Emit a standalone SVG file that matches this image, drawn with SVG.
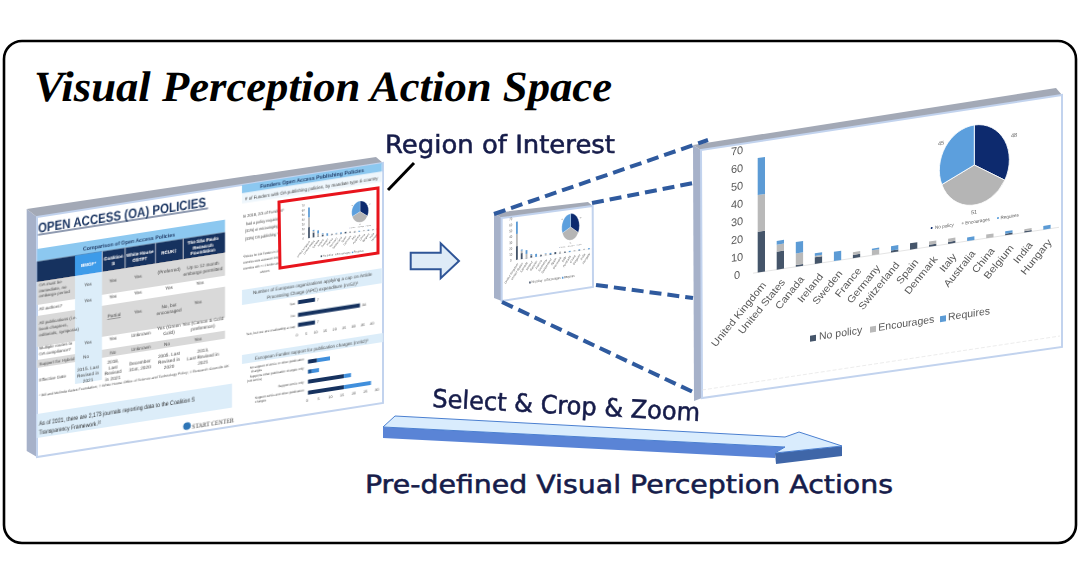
<svg xmlns="http://www.w3.org/2000/svg" width="1080" height="580" viewBox="0 0 1080 580">
<style>
text{text-rendering:geometricPrecision}
.hand{font-family:"DejaVu Sans","Open Sans",sans-serif;fill:#161c4a;stroke:#161c4a;stroke-width:0.55;font-size:25px}
.sans{font-family:"Liberation Sans",Arial,sans-serif}
.face-l{fill:#a6b1c9}
.face-t{fill:#a3a9b6}
.front{fill:#fff;stroke:#c2d3ee;stroke-width:2}
.dk{fill:#44546a}.gy{fill:#b9b9b9}.bl{fill:#5b9bd5}
.ax{font-family:"Liberation Sans",Arial,sans-serif;font-size:10.5px;fill:#595959}
.ay{font-family:"Liberation Sans",Arial,sans-serif;font-size:11px;fill:#595959;text-anchor:middle}
.cl{font-family:"Liberation Sans",Arial,sans-serif;font-size:10.5px;fill:#595959;text-anchor:end}
.pl{font-family:"Liberation Sans",Arial,sans-serif;font-size:5.5px;fill:#595959}
.ml{font-family:"Liberation Sans",Arial,sans-serif;font-size:4.6px;fill:#595959}
.c{font-family:"Liberation Sans",Arial,sans-serif;font-size:4.7px;fill:#404040;text-anchor:middle}
.lab{font-family:"Liberation Sans",Arial,sans-serif;font-size:4.4px;fill:#404040}
.r{font-family:"Liberation Sans",Arial,sans-serif;font-size:5px;fill:#404040;text-anchor:end}
.h{font-family:"Liberation Sans",Arial,sans-serif;font-size:4.5px;font-weight:700;fill:#fff;text-anchor:middle}
.t{font-family:"Liberation Sans",Arial,sans-serif;fill:#1f3864}
.navy{fill:#12305f}.lb{fill:#dcedf9}.rowg{fill:#d9d9d9}
.dash{fill:none;stroke:#2f5a9e;stroke-width:4;stroke-dasharray:12 6}
</style>
<defs>
<filter id="b1" x="-5%" y="-5%" width="110%" height="110%"><feGaussianBlur stdDeviation="0.45"/></filter>
<filter id="b2" x="-5%" y="-5%" width="110%" height="110%"><feGaussianBlur stdDeviation="0.55"/></filter>
<filter id="b3" x="-5%" y="-5%" width="110%" height="110%"><feGaussianBlur stdDeviation="0.4"/></filter>
<g id="chart">
<line x1="52" y1="132" x2="358" y2="132" stroke="#d9d9d9" stroke-width="0.7"/>
<g class="ay"><text x="36" y="11">70</text><text x="36" y="28.8">60</text><text x="36" y="46.5">50</text><text x="36" y="64.3">40</text><text x="36" y="82">30</text><text x="36" y="99.8">20</text><text x="36" y="117.6">10</text><text x="36" y="135.3">0</text></g>
<g>
<rect class="dk" x="56.7" y="91.3" width="7.3" height="40.7"/><rect class="gy" x="56.7" y="54.6" width="7.3" height="36.7"/><rect class="bl" x="56.7" y="17.6" width="7.3" height="37"/>
<rect class="dk" x="75.7" y="114" width="7.3" height="18"/><rect class="gy" x="75.7" y="107" width="7.3" height="7"/><rect class="bl" x="75.7" y="103.3" width="7.3" height="3.7"/>
<rect class="dk" x="94.8" y="130.3" width="7.3" height="1.7"/><rect class="gy" x="94.8" y="118.6" width="7.3" height="11.7"/><rect class="bl" x="94.8" y="107.3" width="7.3" height="11.3"/>
<rect class="dk" x="113.8" y="125.3" width="7.3" height="6.7"/><rect class="gy" x="113.8" y="124" width="7.3" height="1.3"/><rect class="bl" x="113.8" y="121.3" width="7.3" height="2.7"/>
<rect class="bl" x="132.9" y="122.7" width="7.3" height="9.3"/>
<rect class="dk" x="151.9" y="128.7" width="7.3" height="3.3"/><rect class="gy" x="151.9" y="126" width="7.3" height="2.7"/>
<rect class="gy" x="170.9" y="127" width="7.3" height="5"/><rect class="bl" x="170.9" y="125.3" width="7.3" height="1.7"/>
<rect class="dk" x="190" y="130" width="7.3" height="2"/><rect class="bl" x="190" y="125.7" width="7.3" height="4.3"/>
<rect class="dk" x="209" y="125.7" width="7.3" height="6.3"/>
<rect class="dk" x="228" y="130" width="7.3" height="2"/><rect class="gy" x="228" y="126.7" width="7.3" height="3.3"/>
<rect class="dk" x="247.1" y="130" width="7.3" height="2"/><rect class="gy" x="247.1" y="126.7" width="7.3" height="3.3"/>
<rect class="bl" x="266.1" y="128.3" width="7.3" height="3.7"/>
<rect class="gy" x="285.2" y="128.3" width="7.3" height="3.7"/>
<rect class="dk" x="304.2" y="130.3" width="7.3" height="1.7"/><rect class="bl" x="304.2" y="128" width="7.3" height="2.3"/>
<rect class="dk" x="323.3" y="130.7" width="7.3" height="1.3"/><rect class="gy" x="323.3" y="128.7" width="7.3" height="2"/>
<rect class="bl" x="342.3" y="128.3" width="7.3" height="3.7"/>
</g>
<text class="cl" transform="translate(65.7 146) rotate(-47)">United Kingdom</text>
<text class="cl" transform="translate(84.7 146) rotate(-47)">United States</text>
<text class="cl" transform="translate(103.8 146) rotate(-47)">Canada</text>
<text class="cl" transform="translate(122.8 146) rotate(-47)">Ireland</text>
<text class="cl" transform="translate(141.9 146) rotate(-47)">Sweden</text>
<text class="cl" transform="translate(160.9 146) rotate(-47)">France</text>
<text class="cl" transform="translate(179.9 146) rotate(-47)">Germany</text>
<text class="cl" transform="translate(199 146) rotate(-47)">Switzerland</text>
<text class="cl" transform="translate(218 146) rotate(-47)">Spain</text>
<text class="cl" transform="translate(237 146) rotate(-47)">Denmark</text>
<text class="cl" transform="translate(256.1 146) rotate(-47)">Italy</text>
<text class="cl" transform="translate(275.1 146) rotate(-47)">Australia</text>
<text class="cl" transform="translate(294.2 146) rotate(-47)">China</text>
<text class="cl" transform="translate(313.2 146) rotate(-47)">Belgium</text>
<text class="cl" transform="translate(332.3 146) rotate(-47)">India</text>
<text class="cl" transform="translate(351.3 146) rotate(-47)">Hungary</text>
<rect class="dk" x="109" y="203" width="6" height="6"/><text class="ax" x="118" y="208.5">No policy</text>
<rect class="gy" x="169" y="203" width="6" height="6"/><text class="ax" x="177.3" y="208.5">Encourages</text>
<rect class="bl" x="239" y="203" width="6" height="6"/><text class="ax" x="247" y="208.5">Requires</text>
<g stroke="#fff" stroke-width="0.8">
<path d="M273.3 57L273.3 17A35 40 0 0 1 303.8 76.7Z" fill="#0b2a6e"/>
<path d="M273.3 57L303.8 76.7A35 40 0 0 1 240.8 71.7Z" fill="#b5b5b5"/>
<path d="M273.3 57L240.8 71.7A35 40 0 0 1 273.3 17Z" fill="#5b9fdd"/>
</g>
<text class="pl" x="310" y="35">48</text><text class="pl" x="237" y="32">45</text><text class="pl" x="270" y="106">51</text>
<circle cx="230.7" cy="113.6" r="1" fill="#0b2a6e"/><text class="ml" x="234" y="115.2">No policy</text>
<circle cx="261.7" cy="113.6" r="1" fill="#b5b5b5"/><text class="ml" x="264.3" y="115.2">Encourages</text>
<circle cx="297" cy="113.6" r="1" fill="#5b9fdd"/><text class="ml" x="299.5" y="115.2">Requires</text>
</g>
</defs>

<rect width="1080" height="580" fill="#fff"/>
<g id="frame"><rect x="4" y="41" width="1072" height="502" rx="18" fill="#fff" stroke="#000" stroke-width="2.6"/></g>
<g id="title"><text x="34" y="101" font-family="Liberation Serif,Times New Roman,serif" font-weight="700" font-style="italic" font-size="43" textLength="578" lengthAdjust="spacingAndGlyphs" fill="#000">Visual Perception Action Space</text></g>

<g id="source-slide">
<polygon class="face-l" points="26.7,209 37,217 37,457 26.7,451"/>
<polygon class="face-t" points="26.7,209 376,157 383,163 37,217"/>
<polygon class="front" points="37,217 383,163 383,403 37,457"/>
<g transform="matrix(1 -0.156 0 1 0 5.77)" filter="url(#b1)">
<text class="t" x="38" y="232.5" font-size="13.6" font-weight="700" textLength="168" lengthAdjust="spacingAndGlyphs">OPEN ACCESS (OA) POLICIES</text>
<rect x="38" y="234.5" width="170" height="1" fill="#1f3864"/>
<rect x="37" y="249" width="188" height="12.5" fill="#8cc8f0"/>
<text class="t" x="129" y="257.5" font-size="5.6" font-weight="700" text-anchor="middle" textLength="92" lengthAdjust="spacingAndGlyphs">Comparison of Open Access Policies</text>
<rect class="navy" x="37" y="261.5" width="188" height="20.5"/>
<rect x="75" y="261.5" width="27" height="20.5" fill="#3d9be9"/>
<rect x="102" y="261.5" width="0.6" height="20.5" fill="#fff"/><rect x="125" y="261.5" width="0.6" height="20.5" fill="#fff"/><rect x="155" y="261.5" width="0.6" height="20.5" fill="#fff"/><rect x="183" y="261.5" width="0.6" height="20.5" fill="#fff"/>
<text class="h" x="88.5" y="274">BMGF*</text>
<text class="h" x="113.5" y="271">Coalition</text><text class="h" x="113.5" y="277">S</text>
<text class="h" x="140" y="271">White House</text><text class="h" x="140" y="277">OSTP†</text>
<text class="h" x="169" y="274">RCUK‡</text>
<text class="h" x="203" y="268">The São Paulo</text><text class="h" x="203" y="273.5">Research</text><text class="h" x="203" y="279">Foundation</text>
<rect class="rowg" x="37" y="282" width="188" height="23"/>
<rect class="rowg" x="37" y="316" width="188" height="31"/>
<rect class="rowg" x="37" y="360" width="188" height="8"/>
<rect class="lb" x="75" y="282" width="27" height="108"/>
<g class="c">
<text x="88" y="294">Yes</text><text x="113" y="294">Yes</text><text x="138" y="294">Yes</text><text x="169" y="293">(Preferred)</text><text x="203" y="292.5">Up to 12 month</text><text x="203" y="298.5">embargo permitted</text>
<text x="88" y="309.5">Yes</text><text x="113" y="309.5">Yes</text><text x="138" y="309.5">Yes</text><text x="169" y="309.5">Yes</text><text x="200" y="309.5">Yes</text>
<text x="114" y="329" text-decoration="underline">Partial</text><text x="138" y="329">Yes</text><text x="169" y="328">No, but</text><text x="169" y="334">encouraged</text><text x="198" y="329">Yes</text>
<text x="88" y="352">Yes</text><text x="113" y="352">Yes</text><text x="141" y="352">Unknown</text><text x="169" y="349">Yes (Green</text><text x="169" y="355">Gold)</text><text x="203" y="349">Yes (Carson &amp; Gold</text><text x="203" y="355">preference)</text>
<text x="86" y="365.5">No</text><text x="113" y="365.5">No</text><text x="141" y="365.5">Unknown</text><text x="167" y="365.5">No</text><text x="198" y="365.5">Yes</text>
<text x="88" y="378">2015. Last</text><text x="88" y="384">Revised in</text><text x="88" y="390">2021</text>
<text x="113" y="375">2018,</text><text x="113" y="380.5">Last</text><text x="113" y="386">Revised</text><text x="113" y="391.5">in 2021</text>
<text x="140" y="380">December</text><text x="140" y="386">31st, 2020</text>
<text x="169" y="376.5">2005. Last</text><text x="169" y="382.5">Revised in</text><text x="169" y="388.5">2020</text>
<text x="203" y="377.5">2013,</text><text x="203" y="383.5">Last Revised in</text><text x="203" y="389.5">2021</text>
</g>
<g class="lab">
<text x="39" y="287">OA must be</text><text x="39" y="292.5">immediate, no</text><text x="39" y="298">embargo period</text>
<text x="39" y="311">All authors?</text>
<text x="39" y="325">All publications (i.e.</text><text x="39" y="331">book chapters,</text><text x="39" y="337">editorials, symposia)</text>
<text x="39" y="350">Multiple routes to</text><text x="39" y="356">OA compliance?</text>
<text x="39" y="365.5">Support for Hybrid</text>
<text x="39" y="382">Effective Date</text>
</g>
<text class="sans" x="39" y="397" font-size="3.4" fill="#404040" textLength="190" lengthAdjust="spacingAndGlyphs">* Bill and Melinda Gates Foundation; † White House Office of Science and Technology Policy; ‡ Research Councils UK</text>
<rect x="37" y="414" width="195" height="24" fill="#dcedf9"/>
<text class="sans" x="39" y="425.5" font-size="6.4" fill="#262626" textLength="156" lengthAdjust="spacingAndGlyphs">As of 2021, there are 2,173 journals reporting data to the Coalition S</text>
<text class="sans" x="39" y="434.5" font-size="6.4" fill="#262626" textLength="62" lengthAdjust="spacingAndGlyphs">Transparency Framework.²²</text>
<circle cx="187" cy="449.5" r="3.8" fill="#2e75b6"/>
<text x="192" y="452.5" font-family="Liberation Serif,serif" font-size="6.6" fill="#333" textLength="42" lengthAdjust="spacingAndGlyphs">START CENTER</text>

<rect x="242" y="217" width="140" height="8.5" fill="#8cc8f0"/>
<text class="t" x="312" y="223" font-size="5.6" font-weight="700" text-anchor="middle" textLength="104" lengthAdjust="spacingAndGlyphs">Funders Open Access Publishing Policies</text>
<rect x="242" y="225.5" width="140" height="10" fill="#eef6fc"/>
<text class="sans" x="245" y="233" font-size="4.8" fill="#333" textLength="133" lengthAdjust="spacingAndGlyphs"># of Funders with OA publishing policies, by mandate type &amp; country</text>
<g class="lab">
<text x="243" y="250" textLength="41" lengthAdjust="spacingAndGlyphs">In 2019, 2/3 of Funders¹</text><text x="246" y="257.5" textLength="34" lengthAdjust="spacingAndGlyphs">had a policy requiring</text><text x="245" y="265" textLength="33" lengthAdjust="spacingAndGlyphs">(31%) or encouraging</text><text x="245" y="272.5" textLength="33" lengthAdjust="spacingAndGlyphs">(33%) OA publishing.³</text>
</g>
<g class="lab" style="font-size:3.2px">
<text x="243" y="290" textLength="36" lengthAdjust="spacingAndGlyphs">*Policies for 144 Funders in 23</text><text x="243" y="296" textLength="36" lengthAdjust="spacingAndGlyphs">countries were assessed. Only</text><text x="243" y="302" textLength="36" lengthAdjust="spacingAndGlyphs">countries with &gt;= 1 funder are</text><text x="260" y="308">shown.</text>
</g>
<rect x="242" y="322" width="140" height="15" fill="#dcedf9"/>
<text class="c" x="312.5" y="328" style="font-size:4.8px" textLength="119" lengthAdjust="spacingAndGlyphs">Number of European organizations applying a cap on Article</text>
<text class="c" x="312.5" y="334.5" style="font-size:4.8px" textLength="91" lengthAdjust="spacingAndGlyphs">Processing Charge (APC) expenditure (n=52)³</text>
<rect class="navy" x="298" y="341" width="17" height="4"/><rect class="navy" x="298" y="353.7" width="62" height="4"/><rect class="navy" x="298" y="363.7" width="17" height="4"/>
<g class="r" style="font-size:3.4px"><text x="295" y="344.5">Yes</text><text x="295" y="357">No</text><text x="295" y="367.5">Yes, but we are evaluating a cap</text></g>
<g class="c" style="font-size:3.6px"><text x="318" y="344.5">7</text><text x="364" y="357">34</text><text x="318" y="367">7</text>
<text x="297" y="376.5">0</text><text x="306.4" y="376.5">5</text><text x="315.8" y="376.5">10</text><text x="325.2" y="376.5">15</text><text x="334.6" y="376.5">20</text><text x="344" y="376.5">25</text><text x="353.4" y="376.5">30</text><text x="362.8" y="376.5">35</text><text x="372" y="376.5">40</text></g>
<rect x="242" y="387" width="141" height="9" fill="#dcedf9"/>
<text class="c" x="311.5" y="393.5" style="font-size:4.8px" textLength="113" lengthAdjust="spacingAndGlyphs">European Funder support for publication charges (n=62)³</text>
<rect class="navy" x="308" y="402" width="9" height="4"/><rect x="317" y="402" width="13" height="4" fill="#3f8fdc"/>
<rect x="308" y="412" width="4" height="4" fill="#1c5a9c"/><rect x="312" y="412" width="7" height="4" fill="#3f8fdc"/>
<rect class="navy" x="308" y="422" width="36" height="4"/><rect x="344" y="422" width="7" height="4" fill="#3f8fdc"/>
<rect class="navy" x="308" y="433" width="36" height="4"/><rect x="344" y="433" width="27" height="4" fill="#3f8fdc"/>
<g class="r" style="font-size:3.1px"><text x="304" y="402">No support of APCs or other publication</text><text x="262" y="406">charges</text>
<text x="304" y="411">Supports other publication charges only</text><text x="262" y="415">(not APCs)</text>
<text x="304" y="425">Support APCs only</text>
<text x="304" y="433">Support APCs and other publication</text><text x="266" y="437">charges</text></g>
<g class="c" style="font-size:3.6px"><text x="307" y="444">0</text><text x="318.7" y="444">5</text><text x="330.4" y="444">10</text><text x="342" y="444">15</text><text x="353.7" y="444">20</text><text x="365.4" y="444">25</text><text x="377" y="444">30</text></g>
</g>
<g filter="url(#b2)"><use href="#chart" transform="matrix(0.24 -0.03 0 0.267 294.5 204.6)"/></g>
<polygon points="279,202 378,188 378,253 280,268" fill="none" stroke="#e8141c" stroke-width="3"/>
</g>

<g id="crop-slide">
<polygon class="face-l" points="494,213 501.7,218 501.7,301 494,298"/>
<polygon class="face-t" points="494,213 588,202 592.7,206 501.7,218"/>
<polygon class="front" points="501.7,218 592.7,206 593,287 501.7,301"/>
<g filter="url(#b3)"><use href="#chart" transform="matrix(0.252 -0.0366 0 0.333 501.7 218)"/></g>
</g>

<g id="zoom-slide">
<polygon class="face-l" points="693,145 701,150 702,398 694,401"/>
<polygon class="face-t" points="693,145 1056,88 1062,95 701,150"/>
<polygon class="front" points="701,150 1062,95 1062,347 702,398"/>
<g filter="url(#b3)">
<use href="#chart" transform="matrix(1 -0.15 0 1 701 149)"/>
<line x1="702" y1="390" x2="1060" y2="336" stroke="#e4e4e4" stroke-width="0.7" stroke-dasharray="4 2"/>
</g>
</g>

<g id="connectors">
<line x1="388" y1="190" x2="414" y2="163" stroke="#000" stroke-width="3"/>
<line class="dash" x1="494" y1="214" x2="708" y2="140"/>
<line class="dash" x1="592" y1="203" x2="693" y2="183"/>
<line class="dash" x1="596" y1="285" x2="693" y2="298"/>
<line class="dash" x1="502" y1="302" x2="693" y2="392"/>
<polygon points="410.7,252.7 440.7,252.7 440.7,243.3 459,261 440.7,278.3 440.7,269.3 410.7,269.3" fill="#deebf7" stroke="#2f5597" stroke-width="2"/>
<g id="process-arrow">
<polygon points="383,427 785,447 775,453 775,458 383,438" fill="#5a84d6"/>
<polygon points="775,453 842,446 842,456 776,464" fill="#3f66a8"/>
<polygon points="383,427 395,416 785,437 799,432 842,446 775,453 785,447" fill="#d9ecfd" stroke="#4a7fd0" stroke-width="1"/>
</g>
</g>

<g id="labels">
<text class="hand" x="385" y="153" textLength="230" lengthAdjust="spacingAndGlyphs">Region of Interest</text>
<text class="hand" transform="translate(432 407) rotate(3)" textLength="268" lengthAdjust="spacingAndGlyphs">Select &amp; Crop &amp; Zoom</text>
<text class="hand" x="365" y="493" textLength="528" lengthAdjust="spacingAndGlyphs">Pre-defined Visual Perception Actions</text>
</g>
</svg>
